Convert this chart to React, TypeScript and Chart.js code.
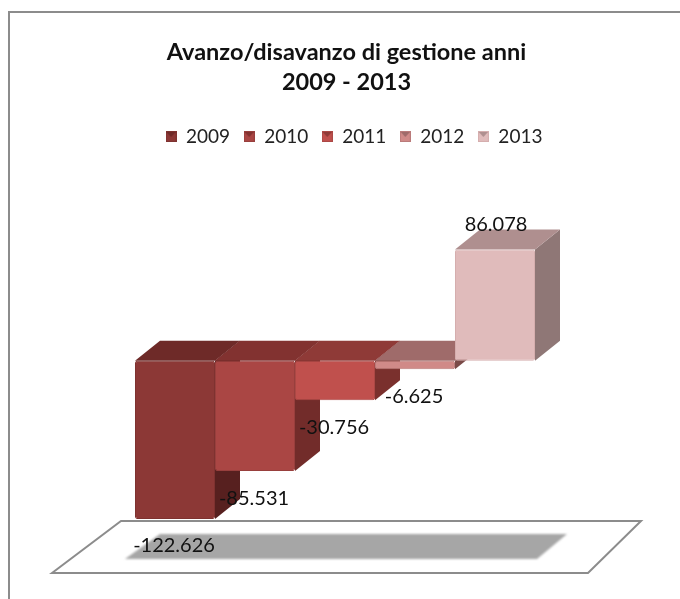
import React, { useEffect, useRef } from "react";
import { Chart, registerables } from "chart.js";

Chart.register(...registerables);

const categories = ["Avanzo/disavanzo"];
const seriesNames = ["2009", "2010", "2011", "2012", "2013"];
const seriesValues = [-122.626, -85.531, -30.756, -6.625, 86.078];
const titleLines = ["Avanzo/disavanzo di gestione anni", "2009 - 2013"];

const frontColors = ["#8C3836", "#AA4644", "#C0504D", "#D08A88", "#E0BBBB"];
const edgeColors = ["#7E3230", "#983F3D", "#AC4845", "#BA7B7A", "#D5AEAE"];
const topColors = ["#6E2A28", "#823230", "#8F3A37", "#9F6B6A", "#AF8F8F"];
const sideColors = ["#57201F", "#722C2A", "#7A302D", "#7A4A48", "#8F7776"];

const DEPTH_X = 25;
const DEPTH_Y = 20;

function polygon(ctx: CanvasRenderingContext2D, pts: number[][], fill: string) {
  ctx.beginPath();
  pts.forEach((p, i) => (i ? ctx.lineTo(p[0], p[1]) : ctx.moveTo(p[0], p[1])));
  ctx.closePath();
  ctx.fillStyle = fill;
  ctx.fill();
}

function makeSwatch(front: string, edge: string, top: string) {
  const c = document.createElement("canvas");
  c.width = 11;
  c.height = 11;
  const g = c.getContext("2d")!;
  g.fillStyle = front;
  g.fillRect(0, 0, 11, 11);
  g.fillStyle = top;
  g.beginPath();
  g.moveTo(0, 0);
  g.lineTo(11, 0);
  g.lineTo(5.5, 6);
  g.closePath();
  g.fill();
  g.strokeStyle = edge;
  g.strokeRect(0.5, 0.5, 10, 10);
  return c;
}

const depthPlugin = {
  id: "depth",
  beforeDraw(chart: any) {
    const { ctx, width, height } = chart;
    ctx.save();
    ctx.fillStyle = "#fff";
    ctx.fillRect(0, 0, width, height);
    ctx.strokeStyle = "#8C8C8C";
    ctx.lineWidth = 2;
    ctx.beginPath();
    ctx.moveTo(9, height);
    ctx.lineTo(9, 12);
    ctx.lineTo(width, 12);
    ctx.stroke();
    ctx.restore();
  },
  afterLayout(chart: any) {
    chart.titleBlock.left += 11.5;
    chart.titleBlock.right += 11.5;
    chart.legend.left += 19;
    chart.legend.right += 19;
  },
  beforeDatasetsDraw(chart: any) {
    const { ctx, chartArea } = chart;
    const { left, right, bottom } = chartArea;
    ctx.save();
    // floor
    ctx.beginPath();
    ctx.moveTo(left - 63, bottom + 51);
    ctx.lineTo(left + 6, bottom - 1);
    ctx.lineTo(right + 86, bottom - 1);
    ctx.lineTo(right + 33, bottom + 51);
    ctx.closePath();
    ctx.fillStyle = "#fff";
    ctx.fill();
    ctx.strokeStyle = "#8C8C8C";
    ctx.lineWidth = 2;
    ctx.stroke();
    // floor shadow
    ctx.filter = "blur(1px)";
    polygon(
      ctx,
      [
        [left + 10, bottom + 37],
        [left + 45, bottom + 12],
        [right + 12, bottom + 12],
        [right - 18, bottom + 37],
      ],
      "#A6A6A6"
    );
    ctx.filter = "none";

    const bars = chart.data.datasets.map((_: any, i: number) =>
      chart.getDatasetMeta(i).data[0].getProps(["x", "y", "base", "width"], true)
    );
    bars.forEach((b: any, i: number) => {
      const r = b.x + b.width / 2;
      const top = Math.min(b.y, b.base);
      const bot = Math.max(b.y, b.base);
      polygon(
        ctx,
        [
          [r, top],
          [r + DEPTH_X, top - DEPTH_Y],
          [r + DEPTH_X, bot - DEPTH_Y],
          [r, bot],
        ],
        sideColors[i]
      );
    });
    bars.forEach((b: any, i: number) => {
      const l = b.x - b.width / 2;
      const r = b.x + b.width / 2;
      const top = Math.min(b.y, b.base);
      polygon(
        ctx,
        [
          [l, top],
          [r, top],
          [r + DEPTH_X, top - DEPTH_Y],
          [l + DEPTH_X, top - DEPTH_Y],
        ],
        topColors[i]
      );
    });
    ctx.restore();
  },
  afterDatasetsDraw(chart: any) {
    const { ctx } = chart;
    ctx.save();
    ctx.font = "20px Lato";
    ctx.fillStyle = "#111";
    ctx.textAlign = "center";
    ctx.textBaseline = "middle";
    chart.data.datasets.forEach((ds: any, i: number) => {
      const value = ds.data[0];
      const el = chart.getDatasetMeta(i).data[0];
      const y = value < 0 ? el.y + 27 : el.y - 25;
      ctx.fillText(value.toFixed(3), el.x + (value < 0 ? -1 : 1), y);
    });
    ctx.restore();
  },
};

export default function App() {
  const ref = useRef<HTMLCanvasElement>(null);
  useEffect(() => {
    const swatches = frontColors.map((c, i) => makeSwatch(c, edgeColors[i], topColors[i]));
    const chart = new Chart(ref.current!, {
      type: "bar",
      data: {
        labels: categories,
        datasets: seriesNames.map((name, i) => ({
          label: name,
          data: [seriesValues[i]],
          backgroundColor: frontColors[i],
          borderColor: edgeColors[i],
          borderWidth: 1,
          borderRadius: 2,
          borderSkipped: false,
          barPercentage: 1,
          categoryPercentage: 400 / 440,
        })),
      },
      options: {
        responsive: false,
        animation: false,
        layout: { padding: { left: 115, right: 125, top: 0, bottom: 77 } },
        scales: {
          x: { display: false },
          y: { display: false, min: -125, max: 158.6 },
        },
        plugins: {
          tooltip: { enabled: false },
          title: {
            display: true,
            text: titleLines,
            color: "#111",
            font: { family: "Lato", size: 23.5, weight: "bold", lineHeight: 1.276 },
            padding: { top: 37, bottom: 16.5 },
          },
          legend: {
            display: true,
            position: "top",
            labels: {
              usePointStyle: true,
              boxWidth: 11,
              boxHeight: 11,
              padding: 13.5,
              color: "#222",
              font: { family: "Lato", size: 19 },
              generateLabels(c: any) {
                const items = Chart.defaults.plugins.legend.labels.generateLabels(c);
                items.forEach((it: any, i: number) => (it.pointStyle = swatches[i]));
                return items;
              },
            },
          },
        },
      },
      plugins: [depthPlugin],
    } as any);
    return () => chart.destroy();
  }, []);
  return (
    <div style={{ position: "absolute", left: 0, top: 0 }}>
      <canvas ref={ref} width={680} height={599} style={{ display: "block" }} />
    </div>
  );
}
